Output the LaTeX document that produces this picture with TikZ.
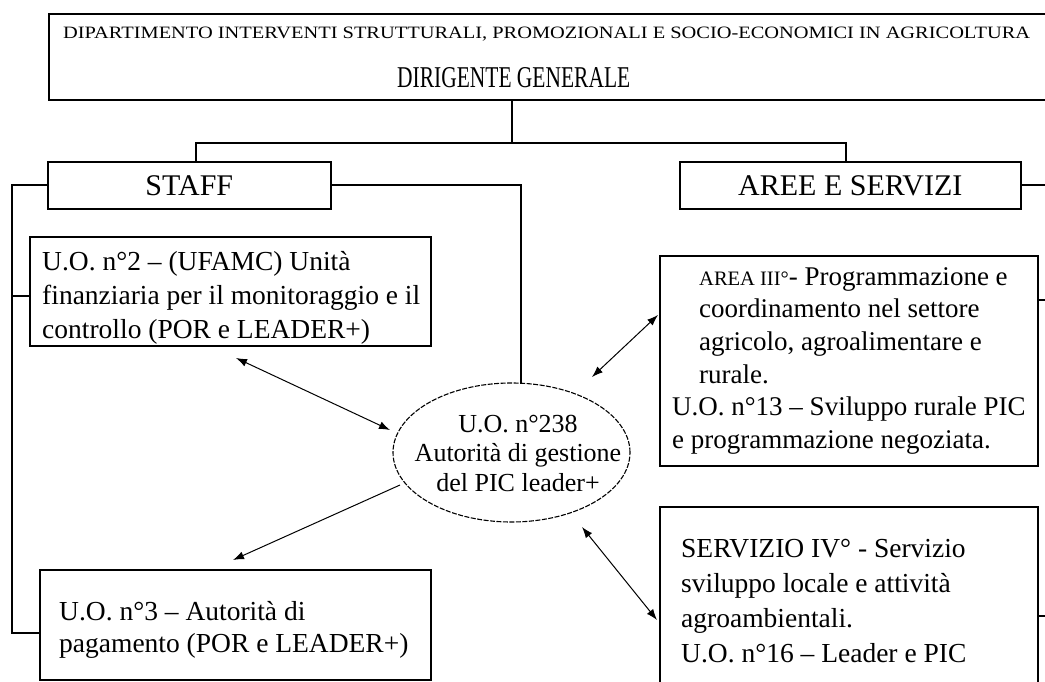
\documentclass[tikz,border=0pt]{standalone}
\usepackage{fontspec}
\usepackage{graphicx}
\setmainfont{Liberation Serif}
\usetikzlibrary{arrows.meta,calc,shapes.geometric}
\begin{document}
\begin{tikzpicture}[x=1pt,y=-1pt,
  box/.style={draw, line width=1.6pt, rectangle, inner sep=0pt, anchor=north west},
  conn/.style={line width=1.6pt},
  txt/.style={inner sep=0pt, align=left, anchor=north west, font=\fontsize{27.5}{34}\selectfont},
  dbl/.style={line width=1pt, {Latex[length=11pt,width=8pt]}-{Latex[length=11pt,width=8pt]}},
  sgl/.style={line width=1pt, -{Latex[length=11pt,width=8pt]}},
  bigtxt/.style={font=\fontsize{30}{30}\selectfont}
]
\clip (0,0) rectangle (1045,682);
\fill[white] (0,0) rectangle (1045,682);

% top box
\node[box, minimum width=1020pt, minimum height=86pt] (top) at (48,13) {};
\node[inner sep=0pt, anchor=base west] (t1) at (63,39) {\resizebox{967pt}{11.5pt}{DIPARTIMENTO INTERVENTI STRUTTURALI, PROMOZIONALI E SOCIO-ECONOMICI IN AGRICOLTURA}};
\node[inner sep=0pt, anchor=base west] (t2) at (397,88) {\resizebox{233pt}{20pt}{DIRIGENTE GENERALE}};

% second level
\node[box, bigtxt, minimum width=283pt, minimum height=47pt] (staff) at (47,161) {STAFF};
\node[box, bigtxt, minimum width=341pt, minimum height=47pt] (aree) at (679,161) {AREE E SERVIZI};

% boxes
\node[box, minimum width=401pt, minimum height=109pt] (uo2) at (29,236) {};
\node[txt] (uo2t) at (42,250) {\rule{0pt}{20pt}U.O. n°2 – (UFAMC) Unità\\finanziaria per il monitoraggio e il\\controllo (POR e LEADER+)};

\node[box, minimum width=391pt, minimum height=110pt] (uo3) at (39,569) {};
\node[txt, font=\fontsize{27.5}{32}\selectfont] (uo3t) at (59,600) {\rule{0pt}{20pt}U.O. n°3 – Autorità di\\pagamento (POR e LEADER+)};

\node[box, minimum width=378pt, minimum height=210pt] (a3) at (659,255) {};
\node[txt, font=\fontsize{27}{32.6}\selectfont] (a3t) at (672,265) {\rule{0pt}{20pt}\hspace*{27pt}{\fontsize{20.5}{20}\selectfont AREA III°}- Programmazione e\\\hspace*{27pt}coordinamento nel settore\\\hspace*{27pt}agricolo, agroalimentare e\\\hspace*{27pt}rurale.\\U.O. n°13 – Sviluppo rurale PIC\\e programmazione negoziata.};

\node[box, minimum width=378pt, minimum height=200pt] (s4) at (659,506) {};
\node[txt, font=\fontsize{27.5}{35}\selectfont] (s4t) at (681,537) {\rule{0pt}{20pt}SERVIZIO IV° - Servizio\\sviluppo locale e attività\\agroambientali.\\U.O. n°16 – Leader e PIC};

% ellipse
\node[draw, ellipse, dash pattern=on 5pt off 1.5pt, line width=1.1pt, minimum width=237pt, minimum height=139pt, inner sep=0pt] (ell) at (511.5,452.5) {};
\node[inner sep=0pt, align=center, anchor=north, font=\fontsize{26}{29.5}\selectfont] (ellt) at (518,412) {\rule{0pt}{20pt}U.O. n°238\\Autorità di gestione\\del PIC leader+};

% connectors
\coordinate (j0) at (512,143);
\coordinate (jl) at (196,143);
\coordinate (jr) at (846,143);
\draw[conn] (top.south -| j0) -- (j0);
\draw[conn] (jl |- staff.north) -- (jl) -- (jr) -- (jr |- aree.north);
\coordinate (b2) at (12,296);
\coordinate (b3) at (12,633);
\draw[conn] (staff.west) -| (b3) -- (b3 -| uo3.west);
\draw[conn] (b2) -- (b2 -| uo2.west);
\coordinate (sr) at (521,384);
\draw[conn] (staff.east) -| (sr);
\coordinate (t3) at (1060,300);
\coordinate (t4) at (1060,616);
\draw[conn] (aree.east) -| (t4) -- (t4 -| s4.east);
\draw[conn] (t3) -- (t3 -| a3.east);

% arrows
\coordinate (p1) at (236,358);
\coordinate (q1) at (390,430);
\draw[dbl] (p1) -- (q1);
\coordinate (p2) at (400,485);
\coordinate (q2) at (233,560);
\draw[sgl] (p2) -- (q2);
\coordinate (p3) at (592,377);
\coordinate (q3) at (658,315);
\draw[dbl] (p3) -- (q3);
\coordinate (p4) at (582,527);
\coordinate (q4) at (657,620);
\draw[dbl] (p4) -- (q4);
\end{tikzpicture}
\end{document}
